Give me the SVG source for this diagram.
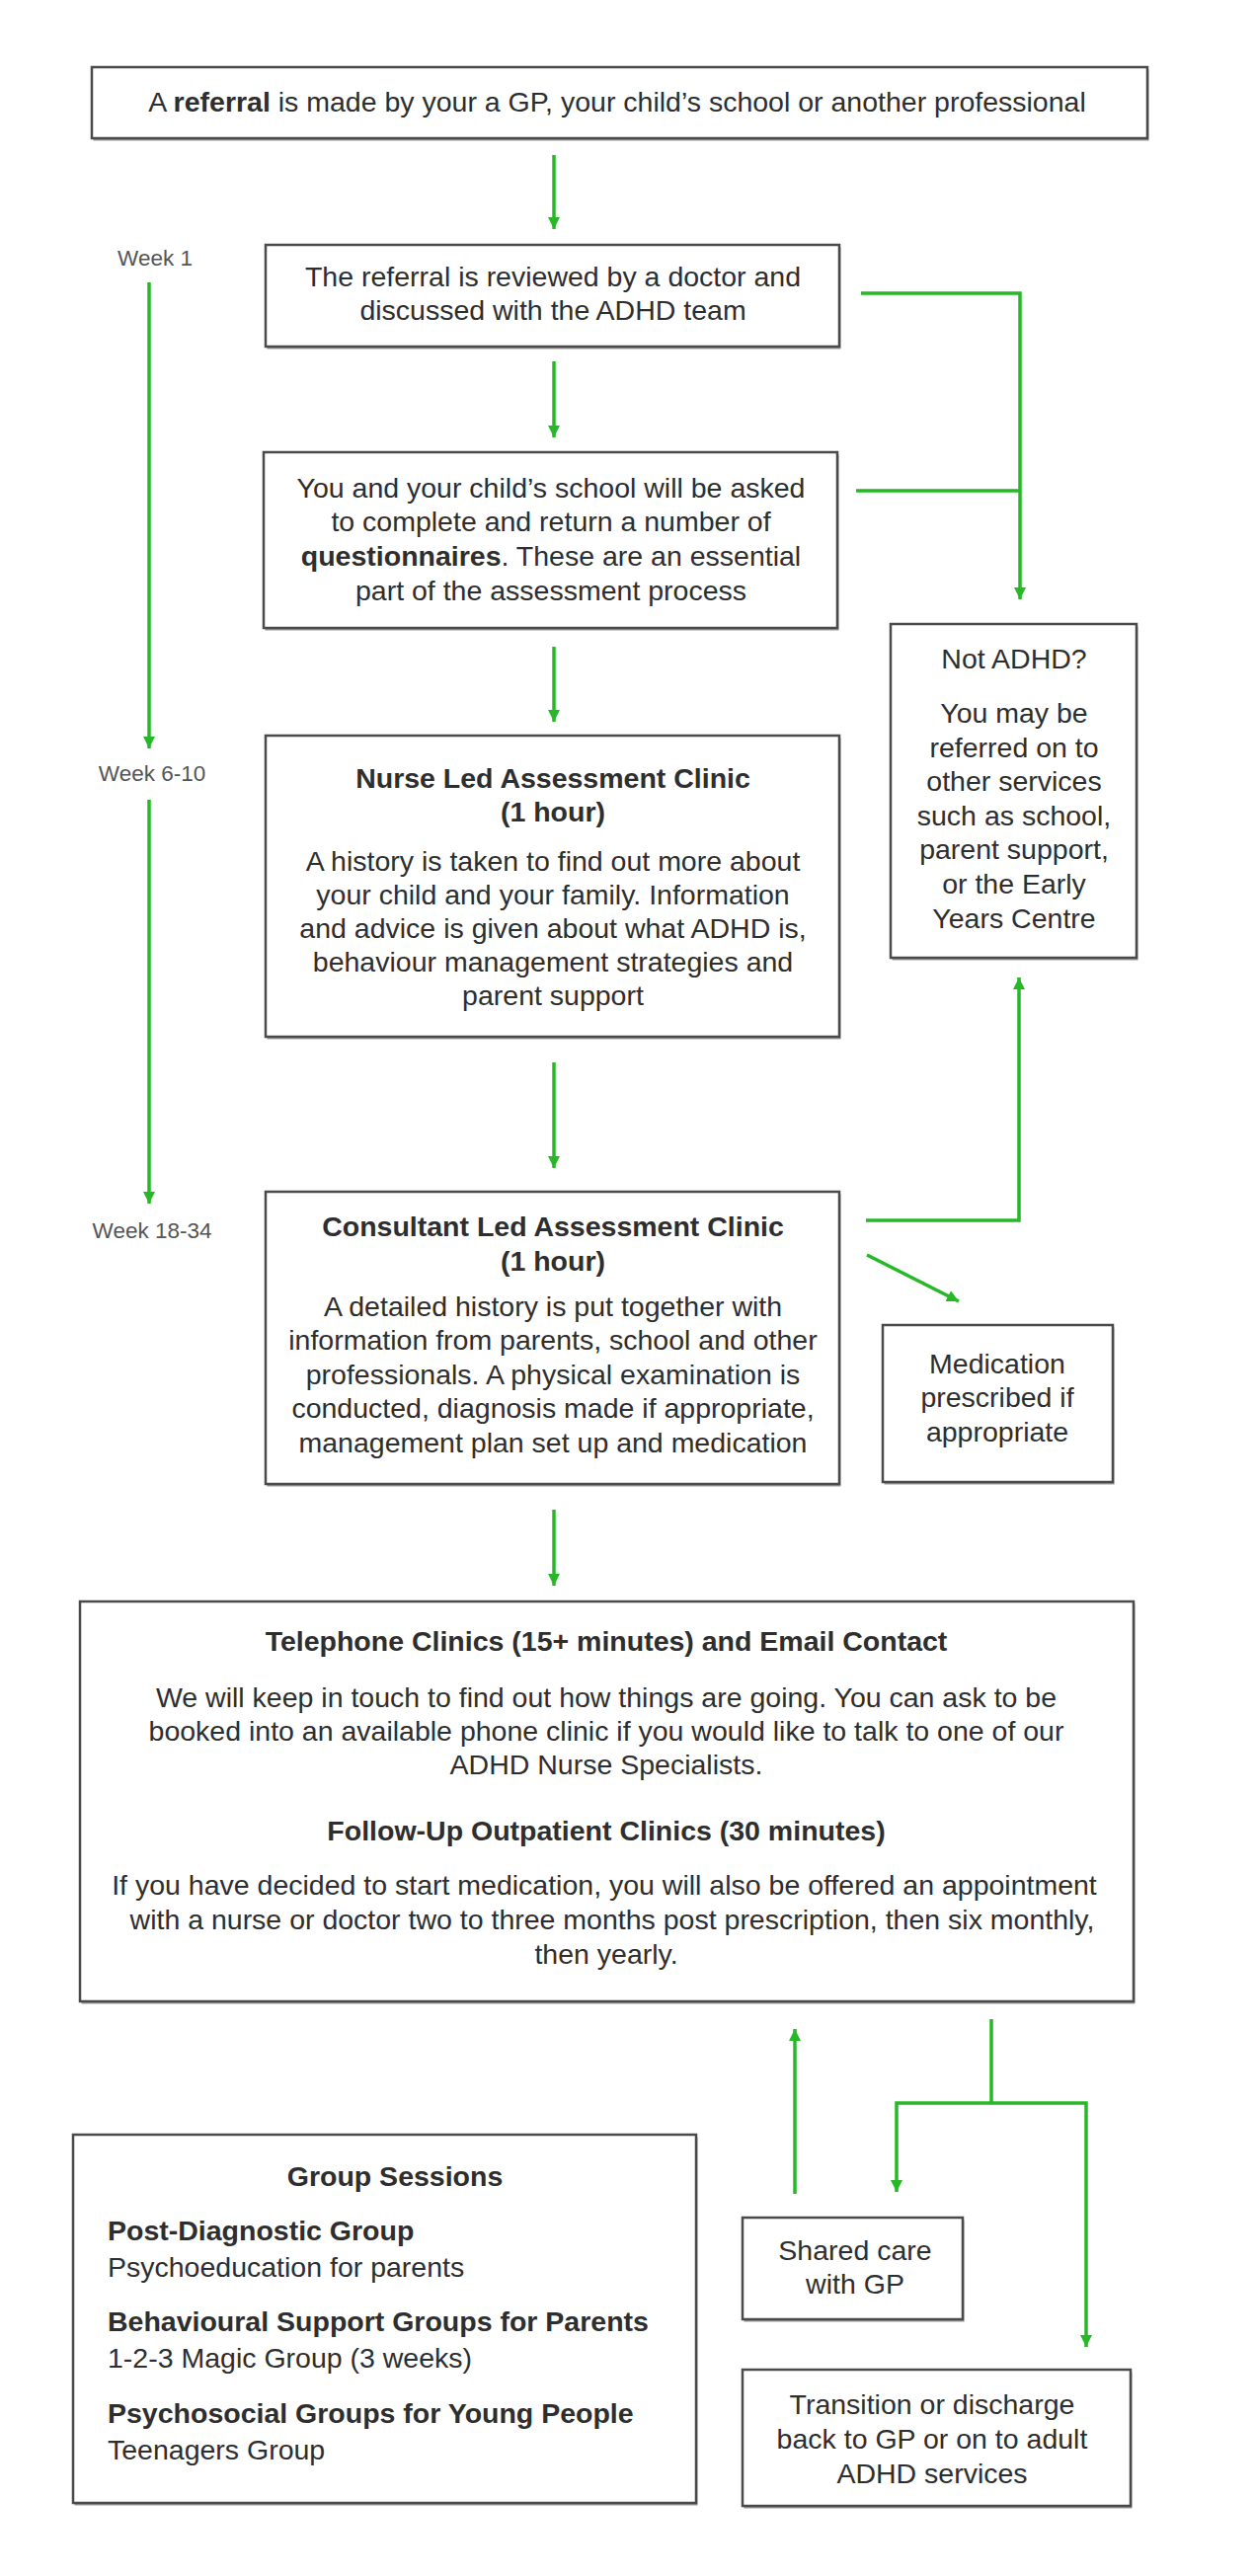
<svg xmlns="http://www.w3.org/2000/svg" width="1270" height="2609" viewBox="0 0 1270 2609">
<defs>
<marker id="ah" markerUnits="userSpaceOnUse" markerWidth="14" markerHeight="12" refX="12" refY="6" orient="auto">
<path d="M0,0 L12,6 L0,12 Z" fill="#27b827"/>
</marker>
<style>
.box{fill:#fff;stroke:#4a4a4a;stroke-width:2.5}
.sh{fill:#9a9a9a}
.t{font-family:"Liberation Sans",Arial,sans-serif;font-size:28.5px;fill:#2e2e2e}
.c{text-anchor:middle}
.b{font-weight:bold}
.wk{font-family:"Liberation Sans",Arial,sans-serif;font-size:22.5px;fill:#555;text-anchor:middle}
.g{fill:none;stroke:#27b827;stroke-width:3.5}
.ga{fill:none;stroke:#27b827;stroke-width:3.5;marker-end:url(#ah)}
</style>
</defs>
<rect width="1270" height="2609" fill="#fff"/>

<g id="connectors">
<line class="ga" x1="561" y1="157" x2="561" y2="232"/>
<line class="ga" x1="561" y1="366" x2="561" y2="443"/>
<line class="ga" x1="561" y1="655" x2="561" y2="731"/>
<line class="ga" x1="561" y1="1076" x2="561" y2="1183"/>
<line class="ga" x1="561" y1="1529" x2="561" y2="1606"/>
<line class="ga" x1="151" y1="286" x2="151" y2="758"/>
<line class="ga" x1="151" y1="810" x2="151" y2="1219"/>
<polyline class="ga" points="872,297 1033,297 1033,607"/>
<line class="g" x1="867" y1="497" x2="1033" y2="497"/>
<polyline class="ga" points="877,1236 1032,1236 1032,990"/>
<line class="ga" x1="878" y1="1271" x2="971" y2="1318"/>
<line class="ga" x1="805" y1="2222" x2="805" y2="2055"/>
<line class="g" x1="1004" y1="2045" x2="1004" y2="2130"/>
<polyline class="ga" points="1004,2130 908,2130 908,2220"/>
<polyline class="ga" points="1004,2130 1100,2130 1100,2377"/>
</g>

<g id="week-labels">
<text class="wk" x="157" y="269">Week 1</text>
<text class="wk" x="154" y="791">Week 6-10</text>
<text class="wk" x="154" y="1254">Week 18-34</text>
</g>

<g id="n-referral">
<rect class="sh" x="94.5" y="70.5" width="1069" height="72"/>
<rect class="box" x="93" y="68" width="1069" height="72"/>
<text class="t c" x="625" y="113">A <tspan class="b">referral</tspan> is made by your a GP, your child’s school or another professional</text>
</g>

<g id="n-review">
<rect class="sh" x="270.5" y="250.5" width="581" height="103"/>
<rect class="box" x="269" y="248" width="581" height="103"/>
<text class="t c" x="560" y="290">The referral is reviewed by a doctor and</text>
<text class="t c" x="560" y="324">discussed with the ADHD team</text>
</g>

<g id="n-questionnaires">
<rect class="sh" x="268.5" y="460.5" width="581" height="178"/>
<rect class="box" x="267" y="458" width="581" height="178"/>
<text class="t c" x="558" y="504">You and your child’s school will be asked</text>
<text class="t c" x="558" y="538">to complete and return a number of</text>
<text class="t c" x="558" y="573"><tspan class="b">questionnaires</tspan>. These are an essential</text>
<text class="t c" x="558" y="608">part of the assessment process</text>
</g>

<g id="n-nurse">
<rect class="sh" x="270.5" y="747.5" width="581" height="305"/>
<rect class="box" x="269" y="745" width="581" height="305"/>
<text class="t c b" x="560" y="798">Nurse Led Assessment Clinic</text>
<text class="t c b" x="560" y="832">(1 hour)</text>
<text class="t c" x="560" y="882">A history is taken to find out more about</text>
<text class="t c" x="560" y="916">your child and your family. Information</text>
<text class="t c" x="560" y="950">and advice is given about what ADHD is,</text>
<text class="t c" x="560" y="984">behaviour management strategies and</text>
<text class="t c" x="560" y="1018">parent support</text>
</g>

<g id="n-notadhd">
<rect class="sh" x="903.5" y="634.5" width="249" height="338"/>
<rect class="box" x="902" y="632" width="249" height="338"/>
<text class="t c" x="1027" y="677">Not ADHD?</text>
<text class="t c" x="1027" y="732">You may be</text>
<text class="t c" x="1027" y="767">referred on to</text>
<text class="t c" x="1027" y="801">other services</text>
<text class="t c" x="1027" y="836">such as school,</text>
<text class="t c" x="1027" y="870">parent support,</text>
<text class="t c" x="1027" y="905">or the Early</text>
<text class="t c" x="1027" y="940">Years Centre</text>
</g>

<g id="n-consultant">
<rect class="sh" x="270.5" y="1209.5" width="581" height="296"/>
<rect class="box" x="269" y="1207" width="581" height="296"/>
<text class="t c b" x="560" y="1252">Consultant Led Assessment Clinic</text>
<text class="t c b" x="560" y="1287">(1 hour)</text>
<text class="t c" x="560" y="1333">A detailed history is put together with</text>
<text class="t c" x="560" y="1367">information from parents, school and other</text>
<text class="t c" x="560" y="1402">professionals. A physical examination is</text>
<text class="t c" x="560" y="1436">conducted, diagnosis made if appropriate,</text>
<text class="t c" x="560" y="1471">management plan set up and medication</text>
</g>

<g id="n-medication">
<rect class="sh" x="895.5" y="1344.5" width="233" height="159"/>
<rect class="box" x="894" y="1342" width="233" height="159"/>
<text class="t c" x="1010" y="1391">Medication</text>
<text class="t c" x="1010" y="1425">prescribed if</text>
<text class="t c" x="1010" y="1460">appropriate</text>
</g>

<g id="n-followup">
<rect class="sh" x="82.5" y="1624.5" width="1067" height="405"/>
<rect class="box" x="81" y="1622" width="1067" height="405"/>
<text class="t c b" x="614" y="1672">Telephone Clinics (15+ minutes) and Email Contact</text>
<text class="t c" x="614" y="1729">We will keep in touch to find out how things are going. You can ask to be</text>
<text class="t c" x="614" y="1763">booked into an available phone clinic if you would like to talk to one of our</text>
<text class="t c" x="614" y="1797">ADHD Nurse Specialists.</text>
<text class="t c b" x="614" y="1864">Follow-Up Outpatient Clinics (30 minutes)</text>
<text class="t c" x="612" y="1919">If you have decided to start medication, you will also be offered an appointment</text>
<text class="t c" x="620" y="1954">with a nurse or doctor two to three months post prescription, then six monthly,</text>
<text class="t c" x="614" y="1989">then yearly.</text>
</g>

<g id="n-groups">
<rect class="sh" x="75.5" y="2164.5" width="631" height="373"/>
<rect class="box" x="74" y="2162" width="631" height="373"/>
<text class="t c b" x="400" y="2214">Group Sessions</text>
<text class="t b" x="109" y="2269">Post-Diagnostic Group</text>
<text class="t" x="109" y="2306">Psychoeducation for parents</text>
<text class="t b" x="109" y="2361">Behavioural Support Groups for Parents</text>
<text class="t" x="109" y="2398">1-2-3 Magic Group (3 weeks)</text>
<text class="t b" x="109" y="2454">Psychosocial Groups for Young People</text>
<text class="t" x="109" y="2491">Teenagers Group</text>
</g>

<g id="n-sharedcare">
<rect class="sh" x="753.5" y="2248.5" width="223" height="103"/>
<rect class="box" x="752" y="2246" width="223" height="103"/>
<text class="t c" x="866" y="2289">Shared care</text>
<text class="t c" x="866" y="2323">with GP</text>
</g>

<g id="n-transition">
<rect class="sh" x="753.5" y="2402.5" width="393" height="138"/>
<rect class="box" x="752" y="2400" width="393" height="138"/>
<text class="t c" x="944" y="2445">Transition or discharge</text>
<text class="t c" x="944" y="2480">back to GP or on to adult</text>
<text class="t c" x="944" y="2515">ADHD services</text>
</g>
</svg>
